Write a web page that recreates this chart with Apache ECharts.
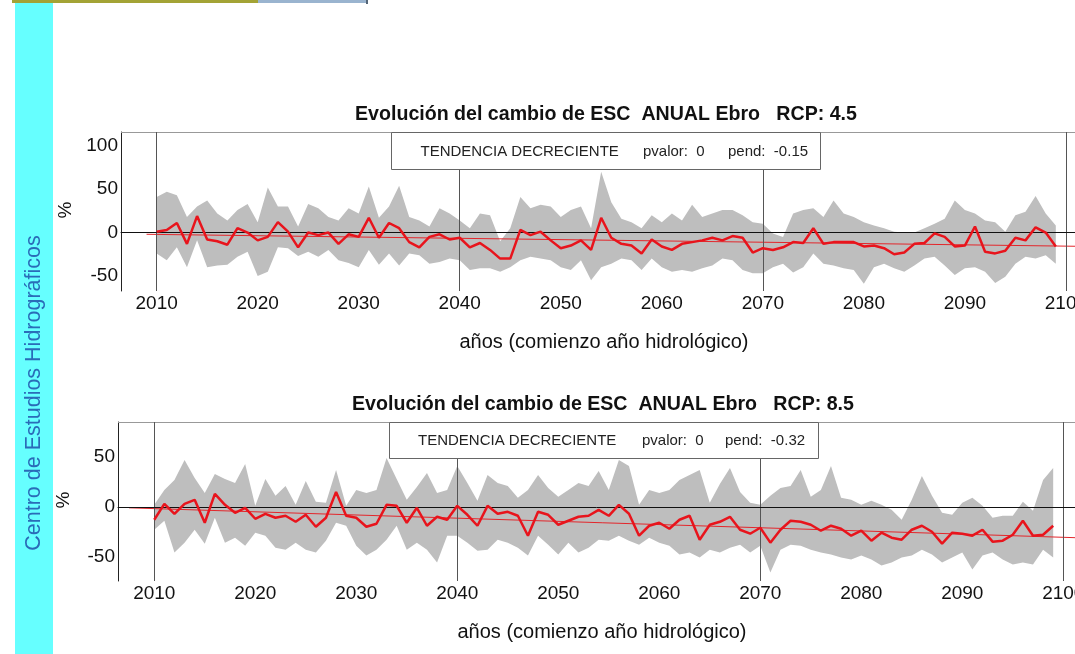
<!DOCTYPE html>
<html>
<head>
<meta charset="utf-8">
<script src="https://cdn.jsdelivr.net/npm/echarts@6/dist/echarts.min.js"></script>
<style>
html,body{margin:0;padding:0;background:#fff;}
#c{width:1075px;height:654px;}
</style>
</head>
<body>
<div id="c"></div>
<script>
// ---- data ----
const years = [];
for (let y = 2010; y <= 2099; y++) years.push(y);
const xTicks = [2010, 2020, 2030, 2040, 2050, 2060, 2070, 2080, 2090, 2100];
const vLines = [2010, 2040, 2070, 2100];
const yTicks1 = [-50, 0, 50, 100];
const yTicks2 = [-50, 0, 50];

const mean45 = [
  1, 3, 11, -13, 19, -8, -10, -14, 5, 0,
  -9, -5, 12, 1, -17, 0, -3, 0, -13, -2,
  -5, 17, -6, 11, 5, -11, -17, -5, -2, -8,
  -6, -17, -12, -20, -30, -30, 3, -3, 1, -9,
  -18, -15, -9, -20, 17, -6, -13, -15, -24, -8,
  -16, -20, -13, -11, -9, -6, -9, -4, -6, -23,
  -18, -20, -17, -11, -12, 5, -13, -11, -11, -11,
  -16, -15, -18, -25, -23, -13, -12, -1, -5, -16,
  -15, 7, -22, -24, -21, -6, -9, 6, 0, -16
];
const upper45 = [
  41, 47, 43, 18, 30, 37, 22, 14, 26, 33,
  12, 52, 30, 30, 7, 33, 28, 18, 14, 28,
  22, 53, 17, 30, 54, 18, 14, 7, 28, 22,
  14, 5, 22, 20, -10, 5, 41, 28, 32, 30,
  18, 26, 30, 5, 70, 35, 16, 12, 5, 20,
  12, 22, 14, 32, 18, 22, 26, 26, 20, 12,
  10, -1, -5, 22, 26, 28, 18, 37, 22, 18,
  12, 8, 5, 1, 0, 0, 5, 10, 16, 37,
  26, 22, 14, 12, 1, 20, 24, 42, 22, 8
];
const lower45 = [
  -24, -32, -17, -40, -9, -40, -38, -37, -28, -22,
  -50, -45, -17, -18, -27, -22, -28, -20, -32, -35,
  -40, -20, -37, -24, -38, -24, -26, -36, -34, -30,
  -32, -43, -41, -41, -45, -40, -32, -28, -30, -32,
  -40, -43, -32, -55, -40, -36, -30, -32, -43, -30,
  -40, -45, -43, -45, -41, -38, -30, -32, -43, -47,
  -47, -40, -36, -46, -40, -24, -36, -38, -41, -43,
  -59, -40, -36, -41, -45, -38, -30, -28, -38, -49,
  -41, -40, -45, -58, -51, -36, -28, -30, -26, -36
];
const trend45 = [[2009, -2], [2101, -15.8]];

const mean85 = [
  -13, 3, -7, 3, 7, -16, 13, 2, -6, -1,
  -12, -7, -11, -9, -15, -8, -20, -11, 15, -9,
  -11, -20, -17, 2, 1, -16, -1, -19, -10, -13,
  1, -8, -19, 1, -7, -5, -9, -29, -5, -8,
  -18, -14, -10, -9, -3, -9, 2, -7, -29, -19,
  -16, -22, -13, -9, -33, -18, -15, -10, -23, -27,
  -21, -36, -23, -14, -15, -18, -24, -19, -22, -29,
  -24, -34, -26, -31, -33, -23, -19, -25, -37, -26,
  -27, -29, -23, -35, -34, -28, -14, -29, -28, -19
];
const upper85 = [
  2, 17, 27, 47, 29, 14, 33, 28, 24, 43,
  1, 28, 11, 21, 2, 26, 5, 4, 37, 1,
  17, 14, 17, 49, 28, 7, 20, 34, 14, 17,
  41, 24, 6, 32, 24, 21, 9, 17, 32, 19,
  10, 17, 24, 21, 36, 17, 47, 41, 2, 17,
  14, 17, 27, 32, 37, 4, 23, 39, 15, 4,
  2, 11, 19, 21, 37, 10, 17, 41, 9, 7,
  2, 6, 2, -3, -13, 7, 31, 11, -6, -8,
  4, 9, 1, -11, -9, -9, 5, -4, 27, 39
];
const lower85 = [
  -23, -14, -46, -36, -23, -37, -11, -36, -31, -39,
  -26, -29, -41, -43, -36, -43, -46, -34, -16, -19,
  -39, -49, -43, -33, -19, -43, -36, -43, -56, -29,
  -29, -36, -44, -43, -33, -36, -41, -49, -29, -38,
  -48, -36, -46, -41, -33, -34, -29, -34, -38, -31,
  -36, -39, -48, -46, -51, -43, -46, -41, -38, -46,
  -39, -66, -43, -38, -39, -43, -46, -48, -51, -53,
  -49, -53, -59, -56, -51, -49, -43, -48, -56, -51,
  -46, -63, -49, -46, -53, -58, -56, -58, -43, -51
];
const trend85 = [[2007.5, -1], [2101.2, -31]];

const titles = ['Evolución del cambio de ESC  ANUAL Ebro   RCP: 4.5', 'Evolución del cambio de ESC  ANUAL Ebro   RCP: 8.5'];
const pends = ['-0.15', '-0.32'];
const xName = 'años (comienzo año hidrológico)';

// ---- chart ----
const FONT = '"Liberation Sans", Arial, sans-serif';
const chart = echarts.init(document.getElementById('c'), null, {renderer: 'canvas'});

function xAxisCfg(gi, min, max) {
  return {
    type: 'value', gridIndex: gi, min: min, max: max,
    splitLine: {show: false},
    axisLine: {show: true, lineStyle: {color: '#222', width: 1}},
    axisTick: {show: false},
    axisLabel: {customValues: xTicks, formatter: v => String(v), fontSize: 19, color: '#111', fontFamily: FONT, margin: 3, hideOverlap: false}
  };
}
function yAxisCfg(gi, min, max, ticks) {
  return {
    type: 'value', gridIndex: gi, min: min, max: max,
    splitLine: {show: false},
    axisLine: {show: true, lineStyle: {color: '#222', width: 1}},
    axisTick: {show: false},
    axisLabel: {customValues: ticks, formatter: v => String(v), fontSize: 19, color: '#111', fontFamily: FONT, margin: 3}
  };
}
function seriesFor(gi, mean, upper, lower, trend) {
  return [
    {type: 'custom', xAxisIndex: gi, yAxisIndex: gi, silent: true, z: 1, clip: true,
     data: [[years[0], upper[0]]], encode: {x: 0, y: 1},
     renderItem: function (params, api) {
       const pts = [];
       for (let i = 0; i < years.length; i++) pts.push(api.coord([years[i], upper[i]]));
       for (let i = years.length - 1; i >= 0; i--) pts.push(api.coord([years[i], lower[i]]));
       return {type: 'polygon', shape: {points: pts}, style: {fill: '#bebebe', stroke: null}};
     }},
    {type: 'line', xAxisIndex: gi, yAxisIndex: gi, data: trend, symbol: 'none', silent: true,
     lineStyle: {color: '#e3262b', width: 1}, z: 4,
     markLine: {silent: true, symbol: 'none', label: {show: false}, animation: false,
       lineStyle: {color: '#555', width: 1, type: 'solid'},
       data: vLines.map(v => ({xAxis: v})).concat([{yAxis: 0, lineStyle: {color: '#111', width: 1, type: 'solid'}}])}},
    {type: 'line', xAxisIndex: gi, yAxisIndex: gi, data: years.map((y, i) => [y, mean[i]]),
     symbol: 'none', silent: true, lineStyle: {color: '#e8141c', width: 2.5}, z: 5}
  ];
}

function legendBox(x, y, w, h, tx, ty, pend, offs) {
  return [
    {type: 'rect', z: 100, shape: {x: x + 0.5, y: y + 0.5, width: w, height: h},
     style: {fill: '#fff', stroke: '#666', lineWidth: 1}},
    {type: 'text', z: 101, x: tx, y: ty, style: {text: 'TENDENCIA DECRECIENTE', font: '15px ' + FONT, fill: '#222', verticalAlign: 'middle'}},
    {type: 'text', z: 101, x: tx + offs[0], y: ty, style: {text: 'pvalor:  0', font: '15px ' + FONT, fill: '#222', verticalAlign: 'middle'}},
    {type: 'text', z: 101, x: tx + offs[1], y: ty, style: {text: 'pend:  ' + pend, font: '15px ' + FONT, fill: '#222', verticalAlign: 'middle'}}
  ];
}

const graphics = [
  {type: 'rect', z: 0, shape: {x: 15, y: 0, width: 38, height: 654}, style: {fill: '#66ffff'}},
  {type: 'rect', z: 0, shape: {x: 12, y: 0, width: 246, height: 3}, style: {fill: '#a3a335'}},
  {type: 'rect', z: 0, shape: {x: 258, y: 0, width: 108, height: 3}, style: {fill: '#9ab4cf'}},
  {type: 'rect', z: 0, shape: {x: 366, y: 0, width: 2, height: 4}, style: {fill: '#556677'}},
  {type: 'line', z: 2, shape: {x1: 121, y1: 132.5, x2: 1075, y2: 132.5}, style: {stroke: '#999', lineWidth: 1}},
  {type: 'line', z: 2, shape: {x1: 118, y1: 422.5, x2: 1075, y2: 422.5}, style: {stroke: '#999', lineWidth: 1}},
  {type: 'text', z: 10, x: 34, y: 393, rotation: Math.PI / 2,
   style: {text: 'Centro de Estudios Hidrográficos', font: '21.5px ' + FONT, fill: '#2a6cb8', align: 'center', verticalAlign: 'middle'}},
  {type: 'text', z: 10, x: 606, y: 115, style: {text: titles[0], font: 'bold 19.6px ' + FONT, fill: '#111', align: 'center', verticalAlign: 'middle'}},
  {type: 'text', z: 10, x: 603, y: 405, style: {text: titles[1], font: 'bold 19.6px ' + FONT, fill: '#111', align: 'center', verticalAlign: 'middle'}},
  {type: 'text', z: 10, x: 604, y: 342, style: {text: xName, font: '20px ' + FONT, fill: '#111', align: 'center', verticalAlign: 'middle'}},
  {type: 'text', z: 10, x: 602, y: 632, style: {text: xName, font: '20px ' + FONT, fill: '#111', align: 'center', verticalAlign: 'middle'}},
  {type: 'text', z: 10, x: 66, y: 210, rotation: Math.PI / 2, style: {text: '%', font: '19px ' + FONT, fill: '#111', align: 'center', verticalAlign: 'middle'}},
  {type: 'text', z: 10, x: 64, y: 500, rotation: Math.PI / 2, style: {text: '%', font: '19px ' + FONT, fill: '#111', align: 'center', verticalAlign: 'middle'}}
].concat(
  legendBox(391, 132, 429, 37, 420.5, 152, pends[0], [222.5, 307.5]),
  legendBox(389, 422, 429, 36, 418, 441, pends[1], [224, 307])
);

const option = {
  animation: false,
  backgroundColor: '#fff',
  grid: [
    {left: 121, top: 132, width: 954, height: 159, show: false, containLabel: false, outerBoundsMode: 'none'},
    {left: 118, top: 422, width: 957, height: 159, show: false, containLabel: false, outerBoundsMode: 'none'}
  ],
  xAxis: [xAxisCfg(0, 2006.47, 2100.9), xAxisCfg(1, 2006.41, 2101.16)],
  yAxis: [yAxisCfg(0, -67.3, 115.8, yTicks1), yAxisCfg(1, -74.5, 85.2, yTicks2)],
  graphic: graphics,
  series: seriesFor(0, mean45, upper45, lower45, trend45).concat(seriesFor(1, mean85, upper85, lower85, trend85))
};
chart.setOption(option);
</script>
</body>
</html>
